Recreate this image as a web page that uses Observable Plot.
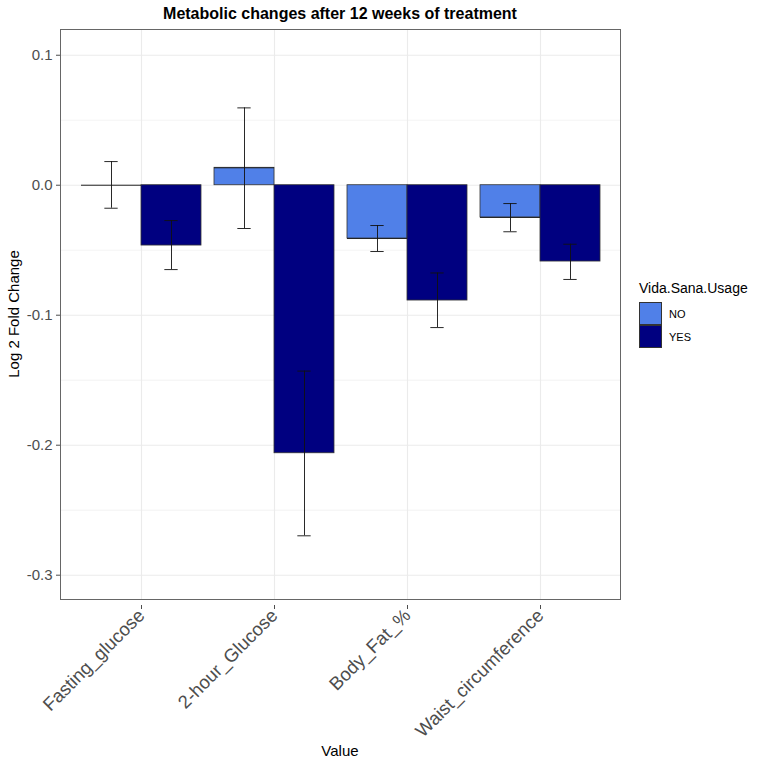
<!DOCTYPE html>
<html>
<head>
<meta charset="utf-8">
<script src="https://cdn.jsdelivr.net/npm/d3@7"></script>
<script src="https://cdn.jsdelivr.net/npm/@observablehq/plot@0.6"></script>
<style>
  html, body { margin: 0; padding: 0; background: #ffffff; }
  #wrap { position: relative; width: 768px; height: 768px; font-family: "Liberation Sans", Arial, Helvetica, sans-serif; color: #000; overflow: hidden; }
  #wrap svg { position: absolute; left: 0; top: 0; }
  .abs { position: absolute; white-space: nowrap; }
</style>
</head>
<body>
<div id="wrap"></div>
<script>
// ---- data ----
const categories = ["Fasting_glucose", "2-hour_Glucose", "Body_Fat_%", "Waist_circumference"];
const groups = ["NO", "YES"];
const noValues  = [0.0000, 0.0134, -0.0410, -0.0248];
const noLower   = [-0.0177, -0.0333, -0.0510, -0.0358];
const noUpper   = [0.0182, 0.0595, -0.0310, -0.0141];
const yesValues = [-0.0464, -0.2062, -0.0887, -0.0587];
const yesLower  = [-0.0649, -0.2697, -0.1095, -0.0725];
const yesUpper  = [-0.0272, -0.1430, -0.0675, -0.0454];
const yMajorTicks = [0.1, 0.0, -0.1, -0.2, -0.3];
const yMinorTicks = [0.05, -0.05, -0.15, -0.25];

const titleText = "Metabolic changes after 12 weeks of treatment";
const xTitle = "Value";
const yTitle = "Log 2 Fold Change";
const legendTitle = "Vida.Sana.Usage";

// ---- styles ----
const groupColors = ["#5080E8", "#000080"];

const rows = [];
categories.forEach((c, i) => {
  rows.push({category: c, group: "NO", value: noValues[i], lo: noLower[i], hi: noUpper[i]});
  rows.push({category: c, group: "YES", value: yesValues[i], lo: yesLower[i], hi: yesUpper[i]});
});
const noRows = rows.filter(d => d.group === "NO");
const yesRows = rows.filter(d => d.group === "YES");

const W = 768, H = 768;
const mL = 60, mR = 148, mT = 29, mB = 169;
const padIn = 0.1, padOut = 0.15;
const step = (W - mL - mR) / (categories.length - padIn + 2 * padOut);
const bw = step * (1 - padIn);
const half = bw / 2;
const capW = step * 0.1;
const off = bw / 4;

const grid = "#ebebeb";
const ink = "#4d4d4d";

const chart = Plot.plot({
  width: W, height: H,
  marginLeft: mL, marginRight: mR, marginTop: mT, marginBottom: mB,
  style: {fontFamily: '"Liberation Sans", Arial, Helvetica, sans-serif', background: "transparent", overflow: "visible"},
  x: {domain: categories, paddingInner: padIn, paddingOuter: padOut, align: 0.5},
  y: {domain: [-0.3187, 0.1198]},
  color: {domain: groups, range: groupColors},
  marks: [
    Plot.gridY({ticks: yMinorTicks, stroke: grid, strokeOpacity: 1, strokeWidth: 0.6}),
    Plot.gridY({ticks: yMajorTicks, stroke: grid, strokeOpacity: 1, strokeWidth: 1.1}),
    Plot.gridX({stroke: grid, strokeOpacity: 1, strokeWidth: 1.1}),
    Plot.barY(noRows, {x: "category", y: "value", fill: "group", stroke: "#333", strokeWidth: 0.8, insetRight: half}),
    Plot.barY(yesRows, {x: "category", y: "value", fill: "group", stroke: "#333", strokeWidth: 0.8, insetLeft: half}),
    // bar top edge (makes zero-height bars visible as a line)
    Plot.tickY(noRows, {x: "category", y: "value", stroke: "#222", strokeWidth: 1, insetRight: half}),
    Plot.ruleX(noRows, {x: "category", y1: "lo", y2: "hi", dx: -off, stroke: "#111", strokeWidth: 0.9}),
    Plot.ruleX(yesRows, {x: "category", y1: "lo", y2: "hi", dx: off, stroke: "#111", strokeWidth: 0.9}),
    Plot.tickY(noRows, {x: "category", y: "hi", stroke: "#111", strokeWidth: 0.9, insetLeft: off - capW / 2, insetRight: bw - off - capW / 2}),
    Plot.tickY(noRows, {x: "category", y: "lo", stroke: "#111", strokeWidth: 0.9, insetLeft: off - capW / 2, insetRight: bw - off - capW / 2}),
    Plot.tickY(yesRows, {x: "category", y: "hi", stroke: "#111", strokeWidth: 0.9, insetLeft: bw - off - capW / 2, insetRight: off - capW / 2}),
    Plot.tickY(yesRows, {x: "category", y: "lo", stroke: "#111", strokeWidth: 0.9, insetLeft: bw - off - capW / 2, insetRight: off - capW / 2}),
    Plot.frame({stroke: "#666", strokeWidth: 1}),
    Plot.axisY({ticks: yMajorTicks, tickFormat: d => d.toFixed(1), tickSize: 4, tickPadding: 4, fontSize: 15, color: ink, label: null}),
    Plot.axisX({tickRotate: -45, tickSize: 4, tickPadding: 3, fontSize: 18.5, color: ink, label: null, dy: 6})
  ]
});

const wrap = document.getElementById("wrap");
wrap.appendChild(chart);

function addText(txt, css) {
  const d = document.createElement("div");
  d.className = "abs";
  d.textContent = txt;
  Object.assign(d.style, css);
  wrap.appendChild(d);
  return d;
}

// title (centered on panel)
addText(titleText, {left: "0px", width: (2 * (mL + (W - mL - mR) / 2)) + "px", textAlign: "center", top: "5px", fontSize: "16px", lineHeight: "18px", fontWeight: "bold"});
// x title
addText(xTitle, {left: "0px", width: (2 * (mL + (W - mL - mR) / 2)) + "px", textAlign: "center", top: "742px", fontSize: "15px", lineHeight: "18px"});
// y title
addText(yTitle, {left: "14px", top: "314px", transform: "translate(-50%, -50%) rotate(-90deg)", fontSize: "15px", lineHeight: "18px"});

// legend
addText(legendTitle, {left: "639px", top: "280px", fontSize: "14px", lineHeight: "16px"});
groups.forEach((g, i) => {
  const k = document.createElement("div");
  k.className = "abs";
  Object.assign(k.style, {left: "639px", top: (302 + i * 23) + "px", width: "23px", height: "23px", boxSizing: "border-box", border: "1px solid #333", background: groupColors[i]});
  wrap.appendChild(k);
  addText(g, {left: "669px", top: (305 + i * 23) + "px", fontSize: "11px", lineHeight: "18px"});
});
</script>
</body>
</html>
